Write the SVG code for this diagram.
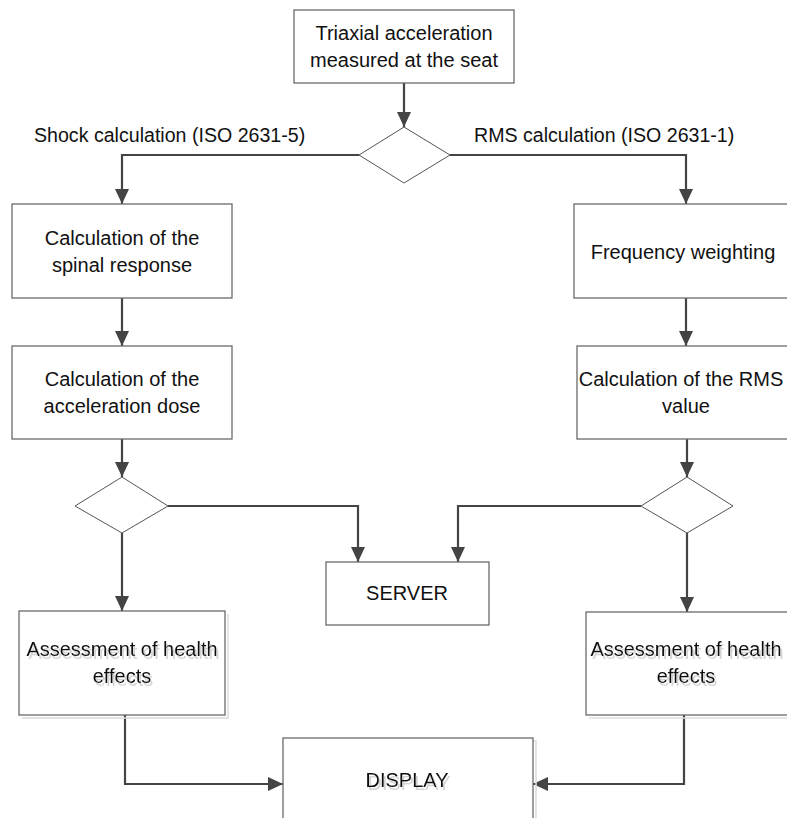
<svg xmlns="http://www.w3.org/2000/svg" width="787" height="818" viewBox="0 0 787 818">
<defs>
<style>
.box{fill:#fff;stroke:#6a6a6a;stroke-width:1.3}
.shadow{fill:none;stroke:#dcdcdc;stroke-width:1.5}
.dia{fill:#fff;stroke:#555;stroke-width:1}
.t{font-family:"Liberation Sans",Arial,sans-serif;font-size:20px;fill:#111;text-anchor:middle}
.sh{filter:url(#tshadow)}
.lbl{font-family:"Liberation Sans",Arial,sans-serif;font-size:19.6px;fill:#111}
.c{fill:none;stroke:#444;stroke-width:2.2}
</style>
<filter id="tshadow" x="-10%" y="-30%" width="120%" height="160%">
<feOffset in="SourceAlpha" dx="2" dy="3" result="o"/>
<feFlood flood-color="#d4d4d4"/>
<feComposite in2="o" operator="in" result="s"/>
<feMerge><feMergeNode in="s"/><feMergeNode in="SourceGraphic"/></feMerge>
</filter>
<marker id="ah" markerUnits="userSpaceOnUse" markerWidth="15" markerHeight="14" refX="15" refY="7" orient="auto" viewBox="0 0 15 14">
<path d="M0,0 L15,7 L0,14 Z" fill="#444"/>
</marker>
</defs>
<rect width="787" height="818" fill="#fff"/>

<g id="connectors">
<path class="c" d="M404,83 V127" marker-end="url(#ah)"/>
<path class="c" d="M359,155 H122 V204" marker-end="url(#ah)"/>
<path class="c" d="M450,155 H686 V204" marker-end="url(#ah)"/>
<path class="c" d="M122,298 V346" marker-end="url(#ah)"/>
<path class="c" d="M686,298 V346" marker-end="url(#ah)"/>
<path class="c" d="M122,439 V477" marker-end="url(#ah)"/>
<path class="c" d="M687,439 V477" marker-end="url(#ah)"/>
<path class="c" d="M168,506 H358 V562" marker-end="url(#ah)"/>
<path class="c" d="M641,506 H458 V562" marker-end="url(#ah)"/>
<path class="c" d="M122,533 V611" marker-end="url(#ah)"/>
<path class="c" d="M687,533 V612" marker-end="url(#ah)"/>
<path class="c" d="M125,715 V784 H283" marker-end="url(#ah)"/>
<path class="c" d="M684,715 V784 H533" marker-end="url(#ah)"/>
</g>

<g id="label-shock"><text class="lbl" x="34" y="142">Shock calculation (ISO 2631-5)</text></g>
<g id="label-rms"><text class="lbl" x="474" y="142">RMS calculation (ISO 2631-1)</text></g>

<g id="n-triaxial">
<rect class="box" x="294" y="10" width="220" height="73"/>
<text class="t" x="404" y="40">Triaxial acceleration</text>
<text class="t" x="404" y="67">measured at the seat</text>
</g>

<g id="d-top"><polygon class="dia" points="404,127 450,155 404,183 359,155"/></g>

<g id="n-spinal">
<rect class="box" x="12" y="204" width="220" height="94"/>
<text class="t" x="122" y="245">Calculation of the</text>
<text class="t" x="122" y="272">spinal response</text>
</g>

<g id="n-dose">
<rect class="box" x="12" y="346" width="220" height="93"/>
<text class="t" x="122" y="386">Calculation of the</text>
<text class="t" x="122" y="413">acceleration dose</text>
</g>

<g id="n-freq">
<rect class="box" x="574" y="204" width="222" height="94"/>
<text class="t" x="683" y="259">Frequency weighting</text>
</g>

<g id="n-rmsval">
<rect class="box" x="577" y="346" width="222" height="93"/>
<text class="t" x="681" y="386">Calculation of the RMS</text>
<text class="t" x="686" y="413">value</text>
</g>

<g id="d-left"><polygon class="dia" points="122,477 168,506 122,533 75,506"/></g>
<g id="d-right"><polygon class="dia" points="687,477 733,506 687,533 641,506"/></g>

<g id="n-server">
<rect class="box" x="326" y="562" width="163" height="63"/>
<text class="t" x="407" y="600">SERVER</text>
</g>

<g id="n-health-left">
<path class="shadow" d="M228,614 V718 H22"/>
<rect class="box" x="19" y="611" width="206" height="104"/>
<text class="t sh" x="122" y="656">Assessment of health</text>
<text class="t sh" x="122" y="683">effects</text>
</g>

<g id="n-health-right">
<path class="shadow" d="M589,718 H800"/>
<rect class="box" x="586" y="612" width="215" height="103"/>
<text class="t sh" x="686" y="656">Assessment of health</text>
<text class="t sh" x="686" y="683">effects</text>
</g>

<g id="n-display">
<path class="shadow" d="M286,822 V741 H536 V822"/>
<rect class="box" x="283" y="738" width="250" height="100"/>
<text class="t sh" x="407" y="787">DISPLAY</text>
</g>
</svg>
